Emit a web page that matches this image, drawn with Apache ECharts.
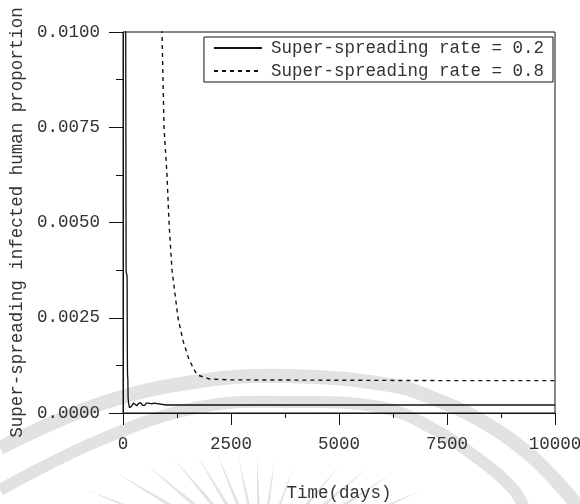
<!DOCTYPE html>
<html>
<head>
<meta charset="utf-8">
<script src="https://cdn.jsdelivr.net/npm/echarts@6/dist/echarts.min.js"></script>
<style>
  html, body { margin: 0; padding: 0; background: #fff; }
  #chart { width: 580px; height: 504px; }
</style>
</head>
<body>
<div id="chart"></div>
<script>
// Super-spreading infected human proportion over time, two super-spreading rates
var seriesNames = ['Super-spreading rate = 0.2', 'Super-spreading rate = 0.8'];

// rate 0.2: [day, proportion]
var rateLowDays = [0, 60, 72, 95, 100, 105, 112, 118, 130, 150, 170, 200, 240, 280, 320, 360, 410, 450, 500, 540, 590, 630, 670, 720, 760, 1000, 5000, 10000];
var rateLowVals = [0.0120, 0.0120, 0.0037, 0.0036, 0.0016, 0.0010, 0.0009, 0.0004, 0.00025, 0.00014, 0.00012, 0.00018, 0.00026, 0.00022, 0.00019, 0.00025, 0.00027, 0.00020, 0.00020, 0.00026, 0.00026, 0.00021, 0.00024, 0.00026, 0.00021, 0.00021, 0.00021, 0.00021];

// rate 0.8: [day, proportion]
var rateHighDays = [0, 500, 800, 903, 949, 1019, 1065, 1134, 1273, 1389, 1528, 1713, 2014, 2500, 5000, 7500, 10000];
var rateHighVals = [0.0300, 0.0200, 0.0130, 0.0100, 0.0075, 0.00625, 0.0050, 0.00375, 0.0025, 0.0019, 0.0014, 0.0010, 0.00089, 0.00087, 0.00086, 0.00085, 0.00085];

var xTicks = [0, 2500, 5000, 7500, 10000];
var yTicks = [0.0000, 0.0025, 0.0050, 0.0075, 0.0100];

function pairs(xs, ys) {
  return xs.map(function (x, i) { return [x, ys[i]]; });
}

var FONT = 'Liberation Mono';
var INK = '#111';
var TEXT = '#333';
var FS = 17.5;

// Faint page emblem behind the plot: two arcs and a fan of rays
var EMBLEM = '#e2e2e2';
var arcOuter = [[0, 448], [100, 404], [200, 381], [290, 376], [390, 385], [430, 397], [480, 420], [530, 455], [567, 493], [580, 510]];
var arcInner = [[0, 490], [100, 440], [200, 407], [290, 402], [380, 407], [430, 427], [480, 460], [513, 489], [525, 510]];
var rayHub = [260, 560];
var rayTips = [[87, 490], [117, 473], [147, 465], [173, 458], [197, 455], [217, 453], [238, 455], [257, 456],
               [275, 458], [293, 468], [340, 465], [367, 468], [393, 473], [423, 490]];

function rayElement(tip) {
  var dx = rayHub[0] - tip[0], dy = rayHub[1] - tip[1];
  var len = Math.sqrt(dx * dx + dy * dy);
  var reach = Math.min(len - 10, 90);
  var ux = dx / len, uy = dy / len;
  var nx = -uy, ny = ux;
  var ex = tip[0] + ux * reach, ey = tip[1] + uy * reach;
  return {
    type: 'polygon', silent: true, z: -10,
    shape: { points: [[tip[0], tip[1]], [ex + nx * 2.5, ey + ny * 2.5], [ex - nx * 2.5, ey - ny * 2.5]] },
    style: { fill: EMBLEM }
  };
}

var emblem = [
  { type: 'polyline', silent: true, z: -10, shape: { points: arcOuter, smooth: 0.4 },
    style: { stroke: EMBLEM, lineWidth: 14, fill: null } },
  { type: 'polyline', silent: true, z: -10, shape: { points: arcInner, smooth: 0.4 },
    style: { stroke: EMBLEM, lineWidth: 12, fill: null } }
].concat(rayTips.map(rayElement));

var chart = echarts.init(document.getElementById('chart'), null, { renderer: 'canvas' });
chart.setOption({
  backgroundColor: '#fff',
  animation: false,
  textStyle: { fontFamily: FONT },
  graphic: { z: -10, elements: emblem },
  grid: {
    left: 123, right: 25, top: 32, bottom: 91,
    outerBoundsMode: 'none', containLabel: false,
    show: true, borderColor: INK, borderWidth: 1
  },
  legend: {
    orient: 'vertical',
    right: 27, top: 37,
    padding: [2, 9, 2, 9],
    itemGap: 5,
    itemWidth: 48, itemHeight: 14,
    borderColor: INK, borderWidth: 1,
    backgroundColor: '#fff',
    itemStyle: { color: 'transparent', borderWidth: 0, opacity: 0 },
    textStyle: { fontFamily: FONT, fontSize: FS, color: TEXT, padding: [0, 0, 0, 4] },
    data: seriesNames
  },
  xAxis: {
    type: 'value',
    min: xTicks[0], max: xTicks[xTicks.length - 1], interval: 2500,
    name: 'Time(days)', nameLocation: 'middle', nameGap: 71,
    nameTextStyle: { fontFamily: FONT, fontSize: FS, color: TEXT },
    axisLine: { onZero: false, lineStyle: { color: INK, width: 1 } },
    axisTick: { length: 12, lineStyle: { color: INK } },
    minorTick: { show: true, splitNumber: 2, length: 5, lineStyle: { color: INK } },
    splitLine: { show: false },
    axisLabel: {
      margin: 22, fontFamily: FONT, fontSize: FS, color: TEXT,
      formatter: function (v) { return String(v); }
    }
  },
  yAxis: {
    type: 'value',
    min: yTicks[0], max: yTicks[yTicks.length - 1], interval: 0.0025,
    name: 'Super-spreading infected human proportion', nameLocation: 'middle', nameGap: 95,
    nameTextStyle: { fontFamily: FONT, fontSize: FS, color: TEXT },
    axisLine: { lineStyle: { color: INK, width: 1 } },
    axisTick: { length: 14, lineStyle: { color: INK } },
    minorTick: { show: true, splitNumber: 2, length: 7, lineStyle: { color: INK } },
    splitLine: { show: false },
    axisLabel: {
      margin: 23, fontFamily: FONT, fontSize: FS, color: TEXT,
      formatter: function (v) { return v.toFixed(4); }
    }
  },
  series: [
    {
      name: seriesNames[0], type: 'line', symbol: 'none', clip: true,
      lineStyle: { color: INK, width: 1.3, type: 'solid' },
      itemStyle: { color: INK },
      data: pairs(rateLowDays, rateLowVals)
    },
    {
      name: seriesNames[1], type: 'line', symbol: 'none', clip: true,
      lineStyle: { color: INK, width: 1.4, type: [4, 4] },
      itemStyle: { color: INK },
      data: pairs(rateHighDays, rateHighVals)
    }
  ]
});
</script>
</body>
</html>
